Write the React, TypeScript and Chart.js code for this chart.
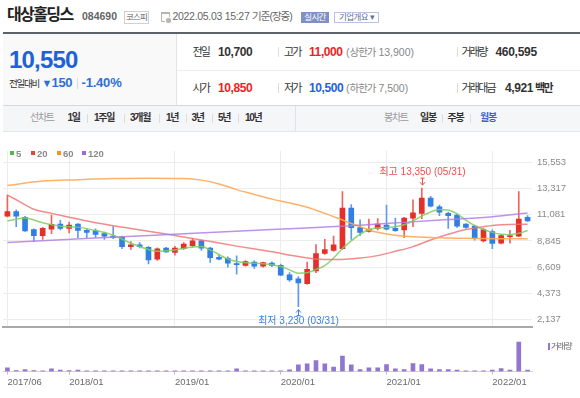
import React, { useEffect, useRef } from "react";
import { Chart, registerables } from "chart.js";

Chart.register(...registerables);

const FONT = '"Liberation Sans", Arial, "Noto Sans CJK KR", sans-serif';

const months = [
  "2017/06", "2017/07", "2017/08", "2017/09", "2017/10", "2017/11", "2017/12",
  "2018/01", "2018/02", "2018/03", "2018/04", "2018/05", "2018/06", "2018/07", "2018/08", "2018/09", "2018/10", "2018/11", "2018/12",
  "2019/01", "2019/02", "2019/03", "2019/04", "2019/05", "2019/06", "2019/07", "2019/08", "2019/09", "2019/10", "2019/11", "2019/12",
  "2020/01", "2020/02", "2020/03", "2020/04", "2020/05", "2020/06", "2020/07", "2020/08", "2020/09", "2020/10", "2020/11", "2020/12",
  "2021/01", "2021/02", "2021/03", "2021/04", "2021/05", "2021/06", "2021/07", "2021/08", "2021/09", "2021/10", "2021/11", "2021/12",
  "2022/01", "2022/02", "2022/03", "2022/04", "2022/05",
];

const axisMonths = ["2017/06", "2018/01", "2019/01", "2020/01", "2021/01", "2022/01"];

const openP = [
  10950, 11350, 10850, 9800, 9300, 9840, 10280, 9920, 10280, 9740,
  9710, 9470, 9250, 9170, 8360, 8500, 8300, 7280, 8220, 7850,
  8170, 8440, 8850, 8220, 7440, 7360, 6900, 6760, 7030, 6680,
  6950, 6760, 5950, 5600, 5190, 6270, 7770, 8030, 8170, 11650,
  9980, 9650, 9920, 10200, 9920, 9790, 10790, 11200, 12500, 11750,
  11200, 11050, 10280, 10100, 8850, 9650, 8650, 9200, 9250, 10850,
];
const closeP = [
  11350, 10950, 9700, 9300, 9920, 10250, 9920, 10200, 9740, 9570,
  9390, 9250, 9110, 8360, 8500, 8360, 7220, 8170, 7900, 8220,
  8580, 8850, 8220, 7410, 7280, 6950, 6820, 7080, 6680, 7000,
  6760, 5920, 5520, 5250, 6410, 7770, 8110, 8500, 11650, 9980,
  9570, 9840, 10280, 9840, 9710, 10800, 11250, 12500, 11800, 11300,
  11000, 10100, 10000, 9030, 9800, 8630, 9300, 9300, 10700, 10550,
];
const highP = [
  12750, 11500, 10950, 9870, 10000, 11050, 10600, 10450, 10330, 9920,
  9870, 9600, 10060, 9250, 8790, 8710, 8360, 8250, 8300, 8380,
  8710, 9060, 8900, 8300, 7630, 7490, 7570, 7170, 7140, 7030,
  7060, 6870, 6140, 5790, 7030, 8520, 8980, 9250, 13050, 11950,
  10650, 10700, 10750, 11900, 10800, 10850, 12350, 13350, 12650, 11900,
  11300, 11150, 10330, 10200, 9920, 9790, 9390, 9750, 13050, 11000,
];
const lowP = [
  10900, 10050, 9650, 8790, 8980, 9470, 9790, 9520, 9110, 9110,
  9110, 8980, 9030, 8170, 8110, 8250, 6870, 7170, 7850, 7630,
  8110, 8300, 8030, 7000, 7220, 6600, 6000, 6680, 6490, 6600,
  6650, 5870, 5380, 3230, 5140, 6140, 7680, 7950, 8110, 8980,
  9300, 9600, 9790, 9790, 9650, 9110, 10050, 10750, 11750, 11000,
  9920, 10000, 9920, 8900, 8760, 8170, 8580, 8650, 9200, 10500,
];
// monthly volume, thousand shares
const volumes = [
  3300, 900, 1800, 900, 650, 2400, 1200, 900, 1200, 600,
  600, 600, 600, 600, 600, 600, 600, 600, 600, 600,
  600, 600, 600, 600, 600, 600, 2400, 600, 600, 600,
  600, 600, 1600, 6000, 6900, 9900, 6900, 3900, 13800, 6000,
  1800, 3300, 3300, 6300, 2400, 1800, 7200, 6300, 2400, 1800,
  1800, 1200, 650, 650, 650, 1200, 2700, 1200, 26400, 1200,
];

const ma5Months = [
  "2017/06", "2017/08", "2017/10", "2017/12", "2018/02", "2018/04", "2018/06", "2018/08", "2018/10", "2018/11",
  "2019/01", "2019/03", "2019/04", "2019/05", "2019/07", "2019/09", "2019/11", "2020/01", "2020/02", "2020/03",
  "2020/04", "2020/05", "2020/06", "2020/07", "2020/08", "2020/09", "2020/10", "2020/11", "2020/12", "2021/02",
  "2021/03", "2021/04", "2021/05", "2021/06", "2021/07", "2021/08", "2021/09", "2021/10", "2021/11", "2021/12",
  "2022/01", "2022/02", "2022/03", "2022/04", "2022/05",
];
const ma5Values = [
  10547, 10790, 10385, 10101, 10020, 9736, 9331, 8641, 8114, 7952,
  8074, 8317, 8357, 8074, 7303, 6979, 6898, 6654, 6370, 6087,
  6127, 6411, 6735, 7384, 8195, 8844, 9412, 9817, 9939, 10060,
  10223, 10547, 10953, 11318, 11520, 11480, 11155, 10628, 10142, 9817,
  9574, 9412, 9371, 9493, 9736,
];
const ma20Months = [
  "2017/06", "2017/07", "2017/09", "2017/11", "2018/01", "2018/04", "2018/08", "2018/12", "2019/04", "2019/08",
  "2019/12", "2020/03", "2020/06", "2020/08", "2020/10", "2020/12", "2021/02", "2021/04", "2021/06", "2021/08",
  "2021/10", "2021/12", "2022/02", "2022/05",
];
const ma20Values = [
  12761, 12356, 11545, 11196, 10871, 10385, 9898, 9436, 8925, 8398,
  7911, 7506, 7263, 7263, 7385, 7587, 7952, 8357, 8925, 9412,
  9817, 10060, 10223, 10263,
];
const ma60Months = [
  "2017/06", "2017/10", "2018/02", "2018/06", "2018/10", "2019/02", "2019/04", "2019/06", "2019/08", "2019/10",
  "2019/12", "2020/02", "2020/04", "2020/06", "2020/08", "2020/10", "2020/12", "2021/02", "2021/06", "2021/10",
  "2022/02", "2022/05",
];
const ma60Values = [
  13572, 13953, 14075, 14172, 14197, 14172, 14034, 13710, 13224, 12818,
  12413, 12089, 11723, 11196, 10628, 10060, 9574, 9331, 9128, 9063,
  9031, 9031,
];
const ma120Months = ["2017/06", "2018/04", "2019/02", "2019/12", "2020/10", "2021/03", "2021/08", "2022/01", "2022/05"];
const ma120Values = [8706, 9087, 9452, 9817, 10182, 10426, 10669, 10912, 11220];

const priceTicks = [2137, 4373, 6609, 8845, 11081, 13317, 15553];

const RED = "#e3302a";
const BLUE = "#2f7fe4";
const RED_W = "#ec6560";
const BLUE_W = "#5d9bec";

const fmt = (v: number) => String(Math.round(v)).replace(/\B(?=(\d{3})+(?!\d))/g, ",");
const isAxisTick = (i: number) => axisMonths.includes(months[i]);
const pts = (ms: string[], vs: number[]) => ms.map((m, i) => ({ x: m, y: vs[i] }));

const hiLoPlugin = {
  id: "hiLo",
  afterDatasetsDraw(chart: any) {
    const { ctx, scales } = chart;
    const xs = scales.x;
    const ys = scales.y;
    const hiVal = Math.max(...highP);
    const loVal = Math.min(...lowP);
    const hi = highP.indexOf(hiVal);
    const lo = lowP.indexOf(loVal);
    ctx.save();
    ctx.font = `10px ${FONT}`;
    ctx.textAlign = "center";
    ctx.textBaseline = "middle";
    ctx.lineWidth = 1;
    // high
    let px = Math.round(xs.getPixelForValue(hi)) + 0.5;
    let py = ys.getPixelForValue(hiVal);
    ctx.strokeStyle = "#f0504a";
    ctx.fillStyle = "#f0504a";
    ctx.beginPath();
    ctx.moveTo(px, py - 10);
    ctx.lineTo(px, py - 3);
    ctx.moveTo(px - 2.5, py - 6);
    ctx.lineTo(px, py - 3);
    ctx.lineTo(px + 2.5, py - 6);
    ctx.moveTo(px - 2, py - 10);
    ctx.lineTo(px + 2, py - 10);
    ctx.stroke();
    const [, hm] = months[hi].split("/");
    ctx.fillText(`최고 ${fmt(hiVal)} (${hm}/31)`, px, py - 15.5);
    // low
    px = Math.round(xs.getPixelForValue(lo)) + 0.5;
    py = ys.getPixelForValue(loVal);
    ctx.strokeStyle = "#3d80e2";
    ctx.fillStyle = "#3d80e2";
    ctx.beginPath();
    ctx.moveTo(px, py + 3);
    ctx.lineTo(px, py + 9);
    ctx.moveTo(px - 2.5, py + 6);
    ctx.lineTo(px, py + 3);
    ctx.lineTo(px + 2.5, py + 6);
    ctx.moveTo(px - 2, py + 9);
    ctx.lineTo(px + 2, py + 9);
    ctx.stroke();
    const [, lm] = months[lo].split("/");
    ctx.fillText(`최저 ${fmt(loVal)} (${lm}/31)`, px, py + 14.5);
    ctx.restore();
  },
};

function PriceChart() {
  const ref = useRef<HTMLCanvasElement>(null);
  useEffect(() => {
    const up = (i: number) => closeP[i] >= openP[i];
    const lineDs = (label: string, data: any[], color: string) => ({
      type: "line" as const,
      label,
      data,
      borderColor: color,
      borderWidth: 1.5,
      pointRadius: 0,
      cubicInterpolationMode: "monotone" as const,
      order: 1,
    });
    const chart = new Chart(ref.current!, {
      type: "bar",
      data: {
        labels: months,
        datasets: [
          lineDs("120", pts(ma120Months, ma120Values), "rgba(178,128,228,0.85)"),
          lineDs("60", pts(ma60Months, ma60Values), "rgba(255,168,90,0.9)"),
          lineDs("20", pts(ma20Months, ma20Values), "rgba(240,110,110,0.8)"),
          lineDs("5", pts(ma5Months, ma5Values), "rgba(128,205,100,0.85)"),
          {
            type: "bar",
            label: "body",
            data: openP.map((o, i) => [o, closeP[i]]),
            backgroundColor: months.map((_, i) => (up(i) ? RED : BLUE)),
            barThickness: 5,
            grouped: false,
            borderWidth: 0,
            order: 2,
          } as any,
          {
            type: "bar",
            label: "wick",
            data: lowP.map((l, i) => [l, highP[i]]),
            backgroundColor: months.map((_, i) => (up(i) ? RED_W : BLUE_W)),
            barThickness: 1,
            grouped: false,
            borderWidth: 0,
            order: 3,
          } as any,
        ],
      },
      options: {
        responsive: false,
        maintainAspectRatio: false,
        animation: false,
        events: [],
        layout: { padding: { left: 3, top: 10, bottom: 2, right: 0 } },
        plugins: { legend: { display: false }, tooltip: { enabled: false } },
        scales: {
          x: {
            type: "category",
            offset: true,
            grid: {
              offset: false,
              drawTicks: false,
              color: (c: any) => (isAxisTick(c.index) ? "#ececec" : "rgba(0,0,0,0)"),
            },
            ticks: { display: false },
            border: { display: true, color: "#a9a9a9", width: 2 },
            afterFit: (s: any) => {
              s.height = 0;
            },
          },
          y: {
            position: "right",
            min: 1464,
            max: 16548,
            afterBuildTicks: (s: any) => {
              s.ticks = priceTicks.map((v) => ({ value: v }));
            },
            grid: { color: "#ececec", drawTicks: false },
            border: { display: false },
            ticks: {
              padding: 5,
              color: "#8a8a8a",
              font: { size: 9.5, family: FONT },
              callback: (v: any) => fmt(Number(v)),
            },
            afterFit: (s: any) => {
              s.width = 48;
            },
          },
        },
      } as any,
      plugins: [hiLoPlugin],
    });
    return () => chart.destroy();
  }, []);
  return (
    <canvas
      ref={ref}
      width={580}
      height={198}
      style={{ position: "absolute", left: 0, top: 140, width: 580, height: 198 }}
    />
  );
}

function VolumeChart() {
  const ref = useRef<HTMLCanvasElement>(null);
  useEffect(() => {
    const chart = new Chart(ref.current!, {
      type: "bar",
      data: {
        labels: months,
        datasets: [
          {
            label: "거래량",
            data: volumes,
            backgroundColor: "#9275cf",
            barThickness: 4,
            borderWidth: 0,
          },
        ],
      },
      options: {
        responsive: false,
        maintainAspectRatio: false,
        animation: false,
        events: [],
        layout: { padding: { left: 3, top: 0, bottom: 0, right: 0 } },
        plugins: { legend: { display: false }, tooltip: { enabled: false } },
        scales: {
          x: {
            type: "category",
            offset: true,
            grid: {
              offset: false,
              drawOnChartArea: false,
              drawTicks: true,
              tickLength: 3,
              tickColor: (c: any) => (isAxisTick(c.index) ? "#bdbdbd" : "rgba(0,0,0,0)"),
            },
            border: { display: true, color: "#d2d2d2", width: 1 },
            ticks: {
              autoSkip: false,
              maxRotation: 0,
              minRotation: 0,
              align: "start",
              padding: 2,
              color: "#6a6a6a",
              font: { size: 9.5, family: FONT },
              callback: (_v: any, i: number) => (isAxisTick(i) ? months[i] : ""),
            },
            afterFit: (s: any) => {
              s.height = 26.5;
            },
          },
          y: {
            position: "right",
            min: 0,
            max: 31000,
            grid: { display: false },
            border: { display: false },
            ticks: { display: false },
            afterFit: (s: any) => {
              s.width = 48;
            },
          },
        },
      } as any,
    });
    return () => chart.destroy();
  }, []);
  return (
    <canvas
      ref={ref}
      width={580}
      height={61}
      style={{ position: "absolute", left: 0, top: 337, width: 580, height: 61 }}
    />
  );
}

type TP = {
  x: number;
  y: number;
  size: number;
  color?: string;
  bold?: boolean;
  ls?: number;
  children: React.ReactNode;
};
function T({ x, y, size, color = "#333", bold = false, ls = 0, children }: TP) {
  return (
    <div
      style={{
        position: "absolute",
        left: x,
        top: y - size,
        lineHeight: `${size * 2}px`,
        fontSize: size,
        fontWeight: bold ? 700 : 400,
        color,
        letterSpacing: ls,
        whiteSpace: "nowrap",
        fontFamily: FONT,
      }}
    >
      {children}
    </div>
  );
}

function Bar({ x, y, h = 10, color = "#dcdcdc" }: { x: number; y: number; h?: number; color?: string }) {
  return <div style={{ position: "absolute", left: x, top: y - h / 2, width: 1, height: h, background: color }} />;
}

function Header() {
  const K = -1.8;
  return (
    <>
      <T x={7} y={15} size={16} bold color="#222" ls={-1.6}>대상홀딩스</T>
      <T x={82} y={16.5} size={10.5} bold color="#666">084690</T>
      <div
        style={{
          position: "absolute", left: 124, top: 11, width: 23, height: 11, border: "1px solid #cfcfcf",
          fontSize: 8.5, lineHeight: "11px", textAlign: "center", color: "#666", fontFamily: FONT, letterSpacing: -0.8,
        }}
      >코스피</div>
      <div style={{ position: "absolute", left: 161, top: 12, width: 7, height: 7, border: "1px solid #b5b5b5", borderTop: "2px solid #b5b5b5" }} />
      <div style={{ position: "absolute", left: 165, top: 17, width: 5, height: 5, borderRadius: 3, background: "#b5b5b5", border: "1px solid #fff" }} />
      <T x={172.5} y={16.5} size={10.5} color="#666" ls={-0.3}>2022.05.03 15:27 <span style={{ letterSpacing: -1 }}>기준(장중)</span></T>
      <div
        style={{
          position: "absolute", left: 301, top: 12, width: 28, height: 11, background: "#7f91c2",
          fontSize: 8.5, lineHeight: "11px", textAlign: "center", color: "#fff", fontFamily: FONT, letterSpacing: -0.6,
        }}
      >실시간</div>
      <div
        style={{
          position: "absolute", left: 334, top: 12, width: 43, height: 9, border: "1px solid #b9c3dd",
          fontSize: 8.5, lineHeight: "9px", textAlign: "center", color: "#5e6f9f", fontFamily: FONT, letterSpacing: -0.6,
        }}
      >기업개요 ▾</div>

      <div style={{ position: "absolute", left: 3, top: 31.5, width: 577, height: 2, background: "#5b626c" }} />

      <div style={{ position: "absolute", left: 3, top: 33.5, width: 173, height: 71.5, background: "#f9f9f9", borderRight: "1px solid #e3e3e3" }} />
      <T x={9} y={60} size={24} bold color="#1f62d5" ls={-0.8}>10,550</T>
      <T x={9} y={83} size={9.5} color="#333" ls={-1.2}>전일대비</T>
      <T x={41.5} y={83} size={11} color="#2f6fd8">▼</T>
      <T x={51.5} y={83} size={13} bold color="#2f6fd8" ls={-0.3}>150</T>
      <Bar x={77} y={83} h={11} />
      <T x={81.5} y={83} size={13} bold color="#2f6fd8" ls={-0.2}>-1.40%</T>

      <div style={{ position: "absolute", left: 177, top: 69.5, width: 403, height: 1, background: "#ededed" }} />

      <T x={192.5} y={52} size={11} color="#333" ls={K}>전일</T>
      <T x={218} y={52} size={12} bold color="#333" ls={-0.4}>10,700</T>
      <Bar x={278} y={52} />
      <T x={284} y={52} size={11} color="#333" ls={K}>고가</T>
      <T x={309} y={52} size={12} bold color="#f01e1e" ls={-0.4}>11,000</T>
      <T x={346} y={52} size={10.5} color="#888">(<span style={{ letterSpacing: -1 }}>상한가</span> 13,900)</T>
      <Bar x={457} y={52} />
      <T x={461.5} y={52} size={11} color="#333" ls={K}>거래량</T>
      <T x={495.5} y={52} size={12} bold color="#333" ls={-0.3}>460,595</T>

      <T x={192.5} y={88} size={11} color="#333" ls={K}>시가</T>
      <T x={218} y={88} size={12} bold color="#f01e1e" ls={-0.4}>10,850</T>
      <Bar x={278} y={88} />
      <T x={284} y={88} size={11} color="#333" ls={K}>저가</T>
      <T x={309} y={88} size={12} bold color="#1f62d5" ls={-0.4}>10,500</T>
      <T x={346} y={88} size={10.5} color="#888">(<span style={{ letterSpacing: -1 }}>하한가</span> 7,500)</T>
      <Bar x={457} y={88} />
      <T x={461.5} y={88} size={11} color="#333" ls={K}>거래대금</T>
      <T x={505} y={88} size={12} bold color="#333" ls={-0.4}>4,921</T>
      <T x={535} y={88} size={11} bold color="#333" ls={-1.5}>백만</T>
    </>
  );
}

function Toolbar() {
  const s = 10;
  const ls = -1.3;
  const y = 118;
  return (
    <>
      <div style={{ position: "absolute", left: 3, top: 105, width: 577, height: 25, background: "#f5f6f8", borderTop: "1px solid #d6d8dc", borderBottom: "1px solid #e4e5e8" }} />
      <div style={{ position: "absolute", left: 295, top: 106, width: 1, height: 25, background: "#e0e2e6" }} />
      <T x={30} y={y} size={s} color="#9a9a9a" ls={ls}>선차트</T>
      <T x={67.5} y={y} size={s} bold color="#333" ls={ls}>1일</T>
      <Bar x={87} y={y} h={9} />
      <T x={94} y={y} size={s} bold color="#333" ls={ls}>1주일</T>
      <Bar x={124} y={y} h={9} />
      <T x={130} y={y} size={s} bold color="#333" ls={ls}>3개월</T>
      <Bar x={159} y={y} h={9} />
      <T x={166} y={y} size={s} bold color="#333" ls={ls}>1년</T>
      <Bar x={186} y={y} h={9} />
      <T x={191.5} y={y} size={s} bold color="#333" ls={ls}>3년</T>
      <Bar x={211.5} y={y} h={9} />
      <T x={218} y={y} size={s} bold color="#333" ls={ls}>5년</T>
      <Bar x={238} y={y} h={9} />
      <T x={245} y={y} size={s} bold color="#333" ls={ls}>10년</T>

      <T x={384} y={y} size={s} color="#9a9a9a" ls={ls}>봉차트</T>
      <T x={420} y={y} size={s} bold color="#333" ls={ls}>일봉</T>
      <Bar x={441.5} y={y} h={9} />
      <T x={447.5} y={y} size={s} bold color="#333" ls={ls}>주봉</T>
      <Bar x={470} y={y} h={9} />
      <T x={480} y={y} size={s} bold color="#3a64c8" ls={ls}>월봉</T>
    </>
  );
}

function Legend() {
  const items = [
    { x: 9.5, c: "#58b947", t: "5" },
    { x: 30.5, c: "#e8443f", t: "20" },
    { x: 56.5, c: "#f7931e", t: "60" },
    { x: 81.5, c: "#9a6bd3", t: "120" },
  ];
  return (
    <>
      {items.map((it) => (
        <React.Fragment key={it.t}>
          <div style={{ position: "absolute", left: it.x, top: 150.5, width: 4, height: 4, background: it.c }} />
          <T x={it.x + 6.5} y={153} size={9.5} bold color="#8a8a8a">{it.t}</T>
        </React.Fragment>
      ))}
      <div style={{ position: "absolute", left: 547.5, top: 343, width: 2, height: 7, background: "#9275cf" }} />
      <T x={551} y={346.5} size={8.5} color="#666" ls={-1}>거래량</T>
    </>
  );
}

export default function App() {
  return (
    <div
      style={{
        position: "absolute",
        left: 0,
        top: 0,
        width: 580,
        height: 398,
        overflow: "hidden",
        background: "#fff",
        fontFamily: FONT,
      }}
    >
      <Header />
      <Toolbar />
      <PriceChart />
      <VolumeChart />
      <Legend />
    </div>
  );
}
